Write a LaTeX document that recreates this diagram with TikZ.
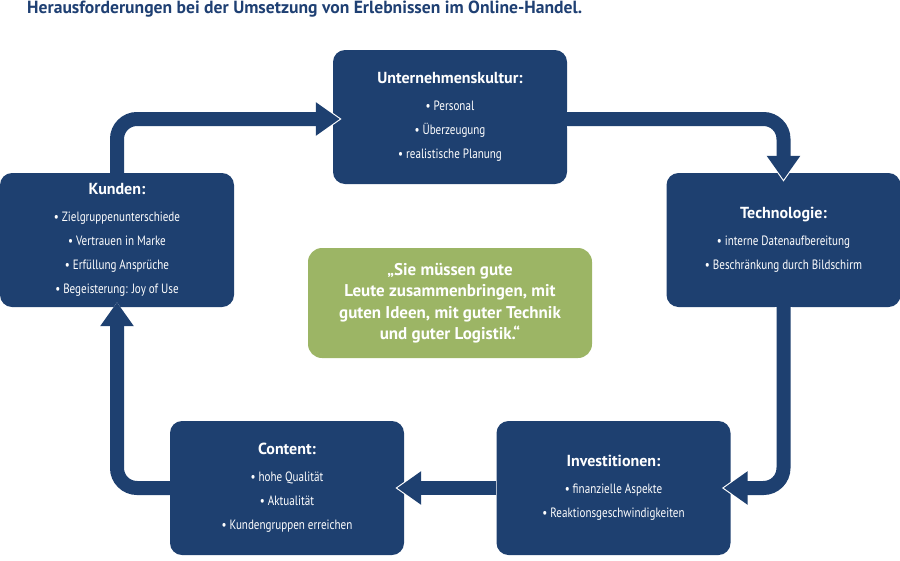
\documentclass[tikz,border=0pt]{standalone}
\usepackage{fontspec}
\setmainfont{PT Sans}
\newfontfamily\cond[FakeStretch=0.82]{PT Sans}
\usetikzlibrary{arrows.meta}
\definecolor{dblue}{RGB}{30,64,112}
\definecolor{lgreen}{RGB}{156,181,101}
\definecolor{ttlblue}{RGB}{31,64,115}
\tikzset{
  bluebox/.style={fill=dblue, rounded corners=12pt, minimum width=234pt, minimum height=134pt,
    text=white, align=center, inner sep=0pt, font=\cond\fontsize{13.5}{24}\selectfont},
  greenbox/.style={fill=lgreen, rounded corners=14pt, minimum width=284pt, minimum height=110pt,
    text=white, align=center, inner sep=0pt, font=\bfseries\fontsize{17}{21.5}\selectfont},
  connw/.style={draw=white, line width=17pt, rounded corners=20pt, shorten >=-9pt,
    -{Triangle[width=37pt,length=28pt]}},
  conn/.style={draw=dblue, line width=14pt, rounded corners=20pt, shorten >=-7pt,
    -{Triangle[width=32pt,length=24pt]}},
}
\newcommand{\bt}[1]{{\normalfont\bfseries\fontsize{16}{16}\selectfont #1}\\[3pt]}
\begin{document}
\begin{tikzpicture}[x=1pt,y=-1pt]
\useasboundingbox (0,0) rectangle (900,560);
\node[anchor=base west, text=ttlblue, font=\bfseries\fontsize{17.6}{18}\selectfont, inner sep=0pt] (title) at (27,13) {Herausforderungen bei der Umsetzung von Erlebnissen im Online-Handel.};
\node[bluebox] (uk) at (450,117) {\bt{Unternehmenskultur:}\textbullet{} Personal\\ \textbullet{} Überzeugung\\ \textbullet{} realistische Planung};
\node[bluebox] (tech) at (783.5,240) {\bt{Technologie:}\textbullet{} interne Datenaufbereitung\\ \textbullet{} Beschränkung durch Bildschirm};
\node[bluebox] (kunden) at (117,240) {\bt{Kunden:}\textbullet{} Zielgruppenunterschiede\\ \textbullet{} Vertrauen in Marke\\ \textbullet{} Erfüllung Ansprüche\\ \textbullet{} Begeisterung: Joy of Use};
\node[bluebox] (inv) at (613.5,488) {\bt{Investitionen:}\textbullet{} finanzielle Aspekte\\ \textbullet{} Reaktionsgeschwindigkeiten};
\node[bluebox] (content) at (287,488) {\bt{Content:}\textbullet{} hohe Qualität\\ \textbullet{} Aktualität\\ \textbullet{} Kundengruppen erreichen};
\node[greenbox] (quote) at (450,303) {„Sie müssen gute\\ Leute zusammenbringen, mit\\ guten Ideen, mit guter Technik\\ und guter Logistik.“};
% connectors
\foreach \s in {connw,conn}{
  \draw[\s] (kunden.north) |- ([yshift=-2pt]uk.west);
  \draw[\s] ([yshift=-2pt]uk.east) -| (tech.north);
  \draw[\s] (tech.south) |- (inv.east);
  \draw[\s] (inv.west) -- (content.east);
  \draw[\s,shorten >=-5pt] (content.west) -| (kunden.south);
}
\end{tikzpicture}
\end{document}
